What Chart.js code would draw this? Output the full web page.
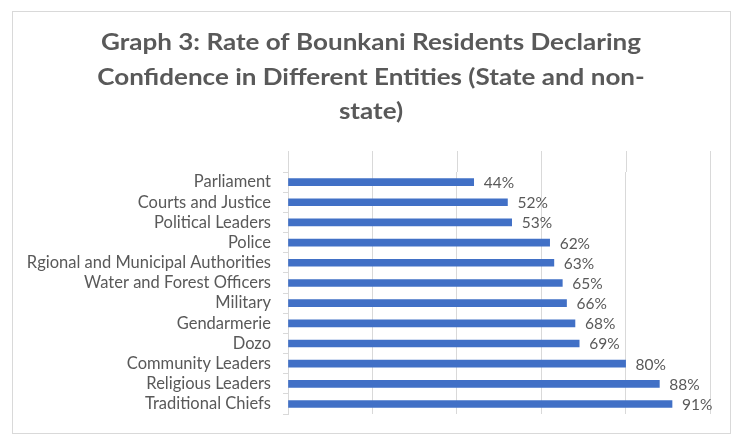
<!DOCTYPE html>
<html>
<head>
<meta charset="utf-8">
<script src="https://cdn.jsdelivr.net/npm/chart.js@4"></script>
<style>
  body { margin: 0; background: #fff; }
  #frame { position: absolute; left: 12px; top: 11px; width: 717px; height: 421px; border: 1px solid #d9d9d9; }
  #chartConfianza { position: absolute; left: 0; top: 0; }
</style>
</head>
<body>
<div id="frame"></div>
<canvas id="chartConfianza" width="732" height="436"></canvas>
<script>
const categorias = ['Parliament', 'Courts and Justice', 'Political Leaders', 'Police',
  'Rgional and Municipal Authorities', 'Water and Forest Officers', 'Military',
  'Gendarmerie', 'Dozo', 'Community Leaders', 'Religious Leaders', 'Traditional Chiefs']
const valores = [44, 52, 53, 62, 63, 65, 66, 68, 69, 80, 88, 91]
const tituloLineas = ['Graph 3: Rate of Bounkani Residents Declaring',
  'Confidence in Different Entities (State and non-', 'state)']

const gris = '#595959'
const rejilla = '#d9d9d9'

// titulo centrado sobre el grafico (la imagen original esta estirada a lo ancho)
const tituloPlugin = {
  id: 'titulo',
  afterDraw (chart) {
    const ctx = chart.ctx
    ctx.save()
    ctx.fillStyle = gris
    ctx.font = 'bold 22px Lato'
    ctx.textAlign = 'center'
    ctx.textBaseline = 'alphabetic'
    const escala = 540 / ctx.measureText(tituloLineas[0]).width
    ctx.translate(371, 0)
    ctx.scale(escala, 1)
    tituloLineas.forEach((t, i) => ctx.fillText(t, 0, 50 + i * 34.5))
    ctx.restore()
  }
}

// etiquetas de valor al final de cada barra
const etiquetasPlugin = {
  id: 'etiquetas',
  afterDatasetsDraw (chart) {
    const ctx = chart.ctx
    const meta = chart.getDatasetMeta(0)
    ctx.save()
    ctx.fillStyle = gris
    ctx.font = '15.5px Lato'
    ctx.textAlign = 'left'
    ctx.textBaseline = 'middle'
    meta.data.forEach((bar, i) => {
      ctx.fillText(valores[i] + '%', bar.x + 10, bar.y + 1)
    })
    ctx.restore()
  }
}

// Excel deja las lineas verticales un poco por encima de la primera categoria
const extensionPlugin = {
  id: 'extension',
  beforeDatasetsDraw (chart) {
    const ctx = chart.ctx
    const x = chart.scales.x
    const top = chart.chartArea.top
    ctx.save()
    ctx.strokeStyle = rejilla
    ctx.lineWidth = 1
    x.ticks.forEach(t => {
      const px = Math.round(x.getPixelForValue(t.value)) + 0.5
      ctx.beginPath()
      ctx.moveTo(px, top - 21)
      ctx.lineTo(px, top)
      ctx.stroke()
    })
    ctx.restore()
  }
}

document.addEventListener('DOMContentLoaded', function () {
  const ctx = document.getElementById('chartConfianza')
  new Chart(ctx, {
    type: 'bar',
    data: {
      labels: categorias,
      datasets: [{
        data: valores,
        backgroundColor: '#4170c6',
        barThickness: 7
      }]
    },
    options: {
      indexAxis: 'y',
      responsive: false,
      animation: false,
      layout: { padding: { top: 172, right: 22, bottom: 19, left: 0 } },
      plugins: { legend: { display: false }, tooltip: { enabled: false } },
      scales: {
        x: {
          min: 0,
          max: 100,
          ticks: { stepSize: 20, display: false },
          grid: { color: rejilla, drawTicks: false },
          border: { display: false }
        },
        y: {
          ticks: { color: gris, font: { family: 'Lato', size: 16.5 }, padding: 12, autoSkip: false },
          grid: { drawOnChartArea: false, color: rejilla, tickLength: 5 },
          border: { color: rejilla },
          afterFit (s) { s.width = 288 }
        }
      }
    },
    plugins: [tituloPlugin, etiquetasPlugin, extensionPlugin]
  })
}, false)
</script>
</body>
</html>
